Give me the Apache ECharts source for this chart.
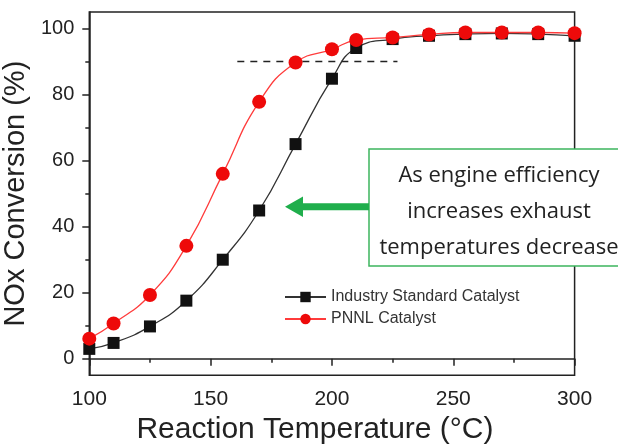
<!DOCTYPE html>
<html>
<head>
<meta charset="utf-8">
<script src="https://cdn.jsdelivr.net/npm/echarts@6/dist/echarts.min.js"></script>
<style>
  html, body { margin: 0; padding: 0; background: #fff; }
  #chart { width: 618px; height: 444px; }
</style>
</head>
<body>
<div id="chart"></div>
<script>
// Reaction temperatures (°C) at which conversion was measured
var temperatures = [100, 110, 125, 140, 155, 170, 185, 200, 210, 225, 240, 255, 270, 285, 300];

// NOx conversion (%) for each catalyst
var industryConversion = [3.0, 4.8, 9.8, 17.6, 30.0, 44.9, 65.0, 84.8, 94.1, 96.8, 97.8, 98.3, 98.5, 98.3, 97.8];
var pnnlConversion = [6.1, 10.7, 19.3, 34.2, 56.0, 77.8, 89.7, 93.7, 96.5, 97.3, 98.2, 98.8, 98.8, 98.8, 98.6];

// 90 % conversion reference segment
var refTemps = [161, 227];
var refLevel = [90, 90];

// Axis tick values
var xTicks = [100, 150, 200, 250, 300];
var yMajorTicks = [0, 20, 40, 60, 80, 100];
var yMinorTicks = [10, 30, 50, 70, 90];

var seriesNames = ['Industry Standard Catalyst', 'PNNL Catalyst'];
var noteLines = ['As engine efficiency', 'increases exhaust', 'temperatures decrease'];

function pairs(xs, ys) {
  return xs.map(function (x, i) { return [x, ys[i]]; });
}

var FONT = '"Liberation Sans", Arial, sans-serif';
var INK = '#222';
var NOTE_FONT = '22px "Open Sans", sans-serif';

var chart = echarts.init(document.getElementById('chart'), null, { renderer: 'canvas' });

chart.setOption({
  animation: false,
  backgroundColor: '#fff',
  grid: {
    left: 89.3, right: 43.4, top: 12, bottom: 68.7,
    containLabel: false,
    outerBoundsMode: 'none',
    show: true, borderColor: INK, borderWidth: 1.5, backgroundColor: 'transparent'
  },
  xAxis: {
    type: 'value',
    min: xTicks[0], max: xTicks[xTicks.length - 1], interval: 50,
    name: 'Reaction Temperature (°C)',
    nameLocation: 'middle', nameGap: 39,
    nameTextStyle: { fontFamily: FONT, fontSize: 30, color: INK, padding: [0, 34, 0, 0] },
    axisLine: { show: true, lineStyle: { color: INK, width: 1.5 } },
    axisTick: { show: true, inside: false, length: 7, lineStyle: { color: INK, width: 1.5 } },
    minorTick: { show: true, splitNumber: 2, length: 4, lineStyle: { color: INK, width: 1.5 } },
    axisLabel: { fontFamily: FONT, fontSize: 21, color: INK, margin: 13 },
    splitLine: { show: false }
  },
  yAxis: [{
    type: 'value',
    min: -5, max: 105,
    position: 'left',
    name: 'NOx Conversion (%)',
    nameLocation: 'middle', nameGap: 48,
    nameTextStyle: { fontFamily: FONT, fontSize: 29, color: INK },
    axisLine: { show: true, lineStyle: { color: INK, width: 1.5 } },
    axisTick: { show: true, inside: false, length: 7, customValues: yMajorTicks, lineStyle: { color: INK, width: 1.5 } },
    axisLabel: { fontFamily: FONT, fontSize: 20, color: INK, margin: 15, customValues: yMajorTicks },
    splitLine: { show: false }
  }, {
    type: 'value',
    min: -5, max: 105,
    position: 'left', offset: 0,
    axisLine: { show: false },
    axisTick: { show: true, inside: false, length: 4, customValues: yMinorTicks, lineStyle: { color: INK, width: 1.5 } },
    axisLabel: { show: false },
    splitLine: { show: false }
  }],
  legend: {
    orient: 'vertical',
    left: 284, top: 289, padding: 0,
    itemWidth: 41, itemHeight: 13, itemGap: 6,
    data: seriesNames,
    textStyle: { fontFamily: FONT, fontSize: 16, color: '#333' }
  },
  series: [{
    name: 'ref90',
    type: 'line',
    data: pairs(refTemps, refLevel),
    symbol: 'none',
    lineStyle: { color: INK, width: 1.5, type: [7, 6] },
    silent: true, z: 1
  }, {
    name: seriesNames[0],
    type: 'line',
    data: pairs(temperatures, industryConversion),
    smooth: 0.5,
    symbol: 'rect', symbolSize: 12,
    itemStyle: { color: '#111' },
    lineStyle: { color: '#333', width: 1.3 },
    z: 2
  }, {
    name: seriesNames[1],
    type: 'line',
    data: pairs(temperatures, pnnlConversion),
    smooth: 0.5,
    symbol: 'circle', symbolSize: 14,
    itemStyle: { color: '#ee0a0a' },
    lineStyle: { color: '#ff3b3b', width: 1.3 },
    z: 3
  }],
  graphic: [{
    type: 'group', z: 100,
    children: [{
      type: 'rect',
      shape: { x: 369, y: 149, width: 280, height: 117 },
      style: { fill: '#fff', stroke: '#3db55e', lineWidth: 1.5 }
    }, {
      type: 'polygon',
      shape: { points: [[369, 203.2], [303, 203.2], [303, 196.5], [285, 206.7], [303, 216.9], [303, 210.2], [369, 210.2]] },
      style: { fill: '#1fae4c' }
    }, {
      type: 'text', x: 499, y: 176,
      style: { text: noteLines[0], font: NOTE_FONT, fill: INK, align: 'center', verticalAlign: 'middle' }
    }, {
      type: 'text', x: 499, y: 212,
      style: { text: noteLines[1], font: NOTE_FONT, fill: INK, align: 'center', verticalAlign: 'middle' }
    }, {
      type: 'text', x: 499, y: 248,
      style: { text: noteLines[2], font: NOTE_FONT, fill: INK, align: 'center', verticalAlign: 'middle' }
    }]
  }]
});
</script>
</body>
</html>
